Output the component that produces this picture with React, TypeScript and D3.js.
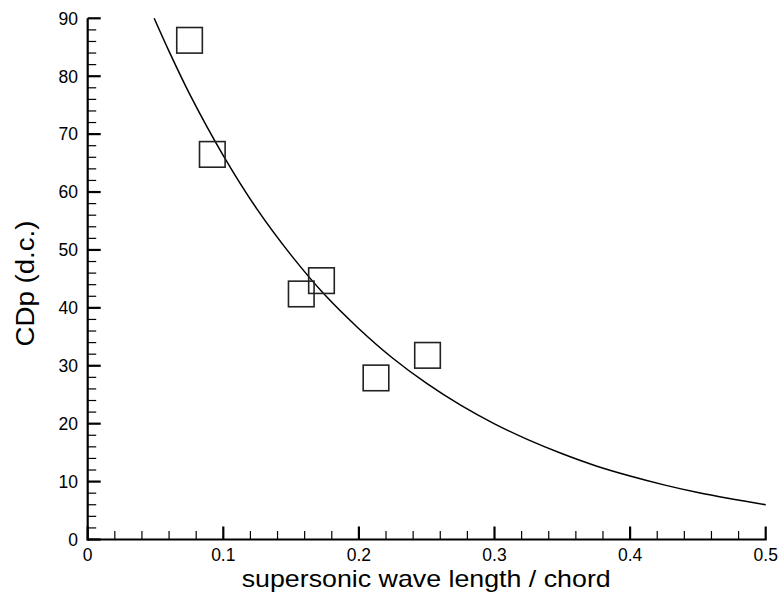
import React from "react";
import * as d3 from "d3";

const pointsX = [0.0751, 0.0919, 0.1575, 0.1724, 0.2126, 0.2506];
const pointsY = [86.2, 66.5, 42.4, 44.7, 27.9, 31.8];

const curveX = [0.049, 0.06, 0.075, 0.1, 0.125, 0.15, 0.175, 0.2, 0.225, 0.25, 0.275, 0.3, 0.325, 0.35, 0.375, 0.4, 0.425, 0.45, 0.475, 0.5];
const curveY = [90, 84.3, 77.0, 66.3, 57.0, 49.1, 42.2, 36.4, 31.3, 26.95, 23.2, 19.97, 17.2, 14.8, 12.7, 10.96, 9.43, 8.1, 7.0, 6.0];

const xMajor = [0, 0.1, 0.2, 0.3, 0.4, 0.5];
const xTickLabels = ["0", "0.1", "0.2", "0.3", "0.4", "0.5"];
const yMajor = [0, 10, 20, 30, 40, 50, 60, 70, 80, 90];

const W = 784;
const H = 598;
const FONT = "'Liberation Sans', Arial, Helvetica, sans-serif";

export default function App() {
  const x = d3.scaleLinear().domain([0, 0.5]).range([87.7, 765.7]);
  const y = d3.scaleLinear().domain([0, 90]).range([539.5, 18.3]);

  const xMinor = d3.range(0, 0.5001, 0.02).filter((v) => Math.abs(v * 10 - Math.round(v * 10)) > 1e-6);
  const yMinor = d3.range(0, 90.001, 2).filter((v) => v % 10 !== 0);

  const line = d3
    .line<number>()
    .x((_, i) => x(curveX[i]))
    .y((d) => y(d))
    .curve(d3.curveCatmullRom.alpha(0.5));

  const sq = 25.6;

  return (
    <svg width={W} height={H} style={{ position: "absolute", left: 0, top: 0, background: "#fff" }}>
      <rect x={0} y={0} width={W} height={H} fill="#fff" />
      {/* curve */}
      <path d={line(curveY) || ""} fill="none" stroke="#000" strokeWidth={1.5} />
      {/* squares */}
      {pointsX.map((px, i) => (
        <rect
          key={i}
          x={x(px) - sq / 2}
          y={y(pointsY[i]) - sq / 2}
          width={sq}
          height={sq}
          fill="none"
          stroke="#222"
          strokeWidth={1.6}
        />
      ))}
      {/* axes */}
      <line x1={x(0)} x2={x(0)} y1={y(0) + 1} y2={y(90)} stroke="#000" strokeWidth={2.2} />
      <line x1={x(0) - 1} x2={x(0.5) + 1} y1={y(0)} y2={y(0)} stroke="#000" strokeWidth={2.2} />
      {yMajor.map((v) => (
        <line key={"ym" + v} x1={x(0)} x2={x(0) + 13} y1={y(v)} y2={y(v)} stroke="#000" strokeWidth={2.2} />
      ))}
      {yMinor.map((v) => (
        <line key={"yn" + v} x1={x(0)} x2={x(0) + 8.5} y1={y(v)} y2={y(v)} stroke="#000" strokeWidth={1.2} />
      ))}
      {xMajor.map((v) => (
        <line key={"xm" + v} x1={x(v)} x2={x(v)} y1={y(0)} y2={y(0) - 13} stroke="#000" strokeWidth={2.2} />
      ))}
      {xMinor.map((v) => (
        <line key={"xn" + v} x1={x(v)} x2={x(v)} y1={y(0)} y2={y(0) - 8.5} stroke="#000" strokeWidth={1.2} />
      ))}
      {/* tick labels */}
      {yMajor.map((v) => (
        <text
          key={"yl" + v}
          x={78}
          y={y(v)}
          dy="0.36em"
          textAnchor="end"
          fontFamily={FONT}
          fontSize={17.5}
          fill="#000"
        >
          {v}
        </text>
      ))}
      {xMajor.map((v, i) => (
        <text
          key={"xl" + v}
          x={x(v)}
          y={561}
          textAnchor="middle"
          fontFamily={FONT}
          fontSize={17.5}
          fill="#000"
        >
          {xTickLabels[i]}
        </text>
      ))}
      {/* titles */}
      <text
        x={426.2}
        y={587}
        textAnchor="middle"
        fontFamily={FONT}
        fontSize={24}
        textLength={369}
        lengthAdjust="spacingAndGlyphs"
        fill="#000"
      >
        supersonic wave length / chord
      </text>
      <text
        transform={`translate(34,283.5) rotate(-90)`}
        textAnchor="middle"
        fontFamily={FONT}
        fontSize={25}
        textLength={126}
        lengthAdjust="spacingAndGlyphs"
        fill="#000"
      >
        CDp (d.c.)
      </text>
    </svg>
  );
}
